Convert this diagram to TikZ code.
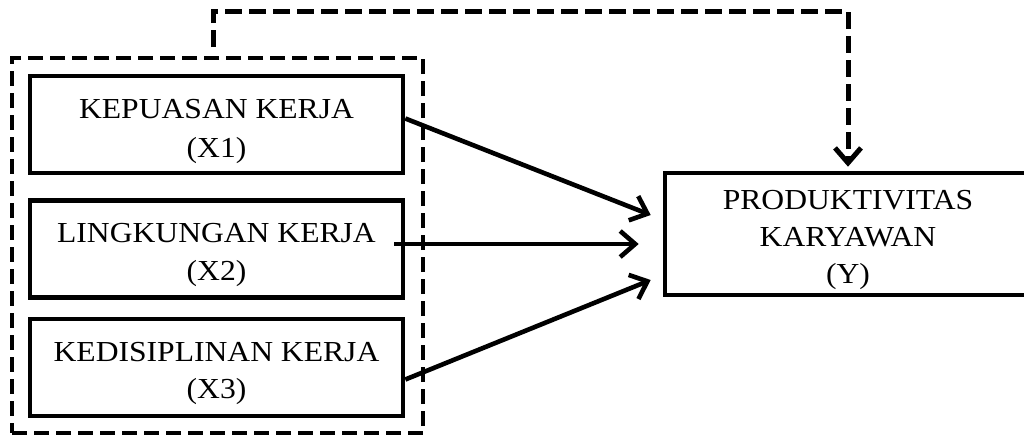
\documentclass[tikz,border=0pt]{standalone}
\usepackage{fontspec}
\setmainfont{Liberation Serif}[FakeStretch=1.09]
\usetikzlibrary{arrows.meta,calc}
\newcommand{\lowtext}[3]{\raisebox{#1}[\height][\depth]{\fontsize{29}{#2}\selectfont\begin{tabular}{@{}c@{}}#3\end{tabular}}}
\begin{document}
\begin{tikzpicture}[x=1pt,y=-1pt,
  varbox/.style={draw,line width=4.6pt,minimum width=373pt,minimum height=97pt,align=center,inner sep=0pt},
  ybox/.style={draw,line width=4.6pt,minimum width=366pt,minimum height=122pt,align=center,inner sep=0pt},
  grpbox/.style={draw,line width=4.6pt,dash pattern=on 15pt off 7pt,minimum width=411pt,minimum height=375pt,inner sep=0pt},
  arr/.style={line width=4.6pt,-{Straight Barb[length=15pt,width=26pt,line width=4.6pt]}},
  darr/.style={line width=5pt,dash pattern=on 17pt off 7pt,shorten >=4pt,-{Straight Barb[length=15pt,width=26pt,line width=5pt]}}]
\useasboundingbox (0,0) rectangle (1024,437);
\node[grpbox] (grp) at (217.5,245.5) {};
\node[varbox] (x1) at (216.5,124.5) {\lowtext{-6pt}{38.5}{KEPUASAN KERJA\\(X1)}};
\node[varbox] (x2) at (216.5,249) {\lowtext{-5pt}{38}{LINGKUNGAN KERJA\\(X2)}};
\node[varbox] (x3) at (216.5,367.5) {\lowtext{-5pt}{37.5}{KEDISIPLINAN KERJA\\(X3)}};
\node[ybox] (y) at (848,234) {\lowtext{-5pt}{37}{PRODUKTIVITAS\\KARYAWAN\\(Y)}};
\coordinate (s) at (213,47);
\coordinate (c) at (848,11);
\draw[darr] (s) |- (c) -- (y.north);
\draw[arr] ($(x1.east)+(0,-6)$) -- ($(y.west)+(-12,-19)$);
\draw[arr] ($(x2.east)+(-11,-5)$) -- ($(y.west)+(-24,10)$);
\draw[arr] ($(x3.east)+(0,12)$) -- ($(y.west)+(-12,46)$);
\end{tikzpicture}
\end{document}
